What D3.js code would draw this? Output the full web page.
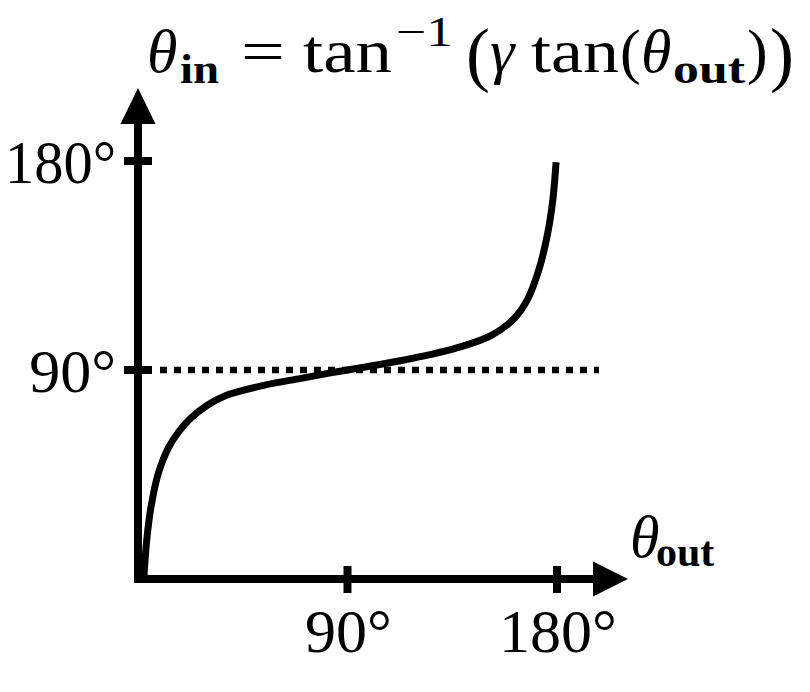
<!DOCTYPE html>
<html><head><meta charset="utf-8">
<script src="https://cdn.jsdelivr.net/npm/d3@7"></script>
<style>html,body{margin:0;padding:0;background:#fff;}svg{display:block;}</style>
</head><body>
<script>
// Data (degrees)
const thetaOut = [2.5, 3.75, 5.6, 8.74, 13.05, 17.4, 22.4, 29.6, 37.5, 54, 70, 82.7, 90, 105, 115.7, 126, 137.3, 151.6, 161.6, 167.4, 172.4, 176.0, 178.2, 179.6];
const thetaIn  = [0, 16.8, 31.1, 45.5, 56.5, 63.3, 69.0, 74.7, 78.9, 83.4, 86.4, 88.75, 90, 92.6, 94.6, 96.7, 99.6, 104.8, 112.2, 120.5, 133.8, 148.9, 163.2, 179.5];
const xTicks = [90, 180];
const yTicks = [90, 180];
const tickLabels = ["90°", "180°"];
const refLevel = 90;

const W = 810, H = 692;
const svg = d3.select("body").append("svg").attr("width", W).attr("height", H);
const x = d3.scaleLinear().domain([0, 180]).range([138, 557]);
const y = d3.scaleLinear().domain([0, 180]).range([579, 161]);
const font = "'Liberation Serif', 'Times New Roman', serif";

// dotted reference line
svg.append("line")
  .attr("x1", 160).attr("x2", 599)
  .attr("y1", y(refLevel)).attr("y2", y(refLevel))
  .attr("stroke", "#000").attr("stroke-width", 6.5)
  .attr("stroke-dasharray", "7,7");

// axes
svg.append("path")
  .attr("d", `M${x(0)},122 V${y(0)} H596`)
  .attr("fill", "none").attr("stroke", "#000").attr("stroke-width", 8)
  .attr("stroke-linejoin", "miter");
svg.append("path").attr("d", `M${x(0)},88 L${x(0)-17.5},124 L${x(0)+17.5},124 Z`).attr("fill", "#000");
svg.append("path").attr("d", `M628,${y(0)} L593,${y(0)-17.5} L593,${y(0)+17.5} Z`).attr("fill", "#000");

// ticks
xTicks.forEach(t => svg.append("line").attr("x1", x(t)).attr("x2", x(t))
  .attr("y1", y(0) - 13).attr("y2", y(0) + 14).attr("stroke", "#000").attr("stroke-width", 8));
yTicks.forEach(t => svg.append("line").attr("y1", y(t)).attr("y2", y(t))
  .attr("x1", x(0) - 14).attr("x2", x(0) + 14).attr("stroke", "#000").attr("stroke-width", 8));

// tick labels
xTicks.forEach((t, i) => svg.append("text").attr("x", x(t) + 1).attr("y", 652)
  .attr("text-anchor", "middle").attr("font-family", font).attr("font-size", 62).text(tickLabels[i]));
yTicks.forEach((t, i) => {
  const tx = svg.append("text").attr("x", 116).attr("y", y(t) + 22)
    .attr("text-anchor", "end").attr("font-family", font).attr("font-size", 62).text(tickLabels[i]);
  if (tickLabels[i].length > 3) tx.attr("textLength", 111).attr("lengthAdjust", "spacingAndGlyphs");
});

// curve
const pts = thetaOut.map((d, i) => [d, thetaIn[i]]);
svg.append("path").datum(pts)
  .attr("d", d3.line().x(d => x(d[0])).y(d => y(d[1])).curve(d3.curveCatmullRom.alpha(0.5)))
  .attr("fill", "none").attr("stroke", "#000").attr("stroke-width", 7);

// axis label theta_out
const xl = svg.append("text").attr("font-family", font);
xl.append("tspan").attr("x", 630).attr("y", 557).attr("font-size", 60).attr("font-style", "italic").text("θ");
xl.append("tspan").attr("x", 656).attr("y", 566).attr("font-size", 42).attr("font-weight", "bold").text("out");

// title
const base = 72;
const tt = svg.append("g").attr("font-family", font);
function piece(txt, px, py, size, opts) {
  const t = tt.append("text").attr("x", px).attr("y", py).attr("font-size", size).text(txt);
  if (opts && opts.italic) t.attr("font-style", "italic");
  if (opts && opts.bold) t.attr("font-weight", "bold");
  if (opts && opts.len) t.attr("textLength", opts.len).attr("lengthAdjust", "spacingAndGlyphs");
  return t;
}
piece("θ", 147, base, 62, {italic: true});
piece("in", 180, base + 11, 42, {bold: true, len: 39});
piece("=", 241, base, 62, {len: 44});
piece("tan", 303, base, 62, {len: 89});
piece("−1", 396, base - 26, 42, {len: 57});
piece("(", 466, base + 6, 72);
piece("γ", 490, base, 62, {italic: true});
piece("tan", 531, base, 62, {len: 88});
piece("(", 620, base, 62);
piece("θ", 641, base, 62, {italic: true});
piece("out", 673, base + 11, 42, {bold: true, len: 72});
piece(")", 747, base, 62);
piece(")", 770, base + 6, 72);
</script>
</body></html>
